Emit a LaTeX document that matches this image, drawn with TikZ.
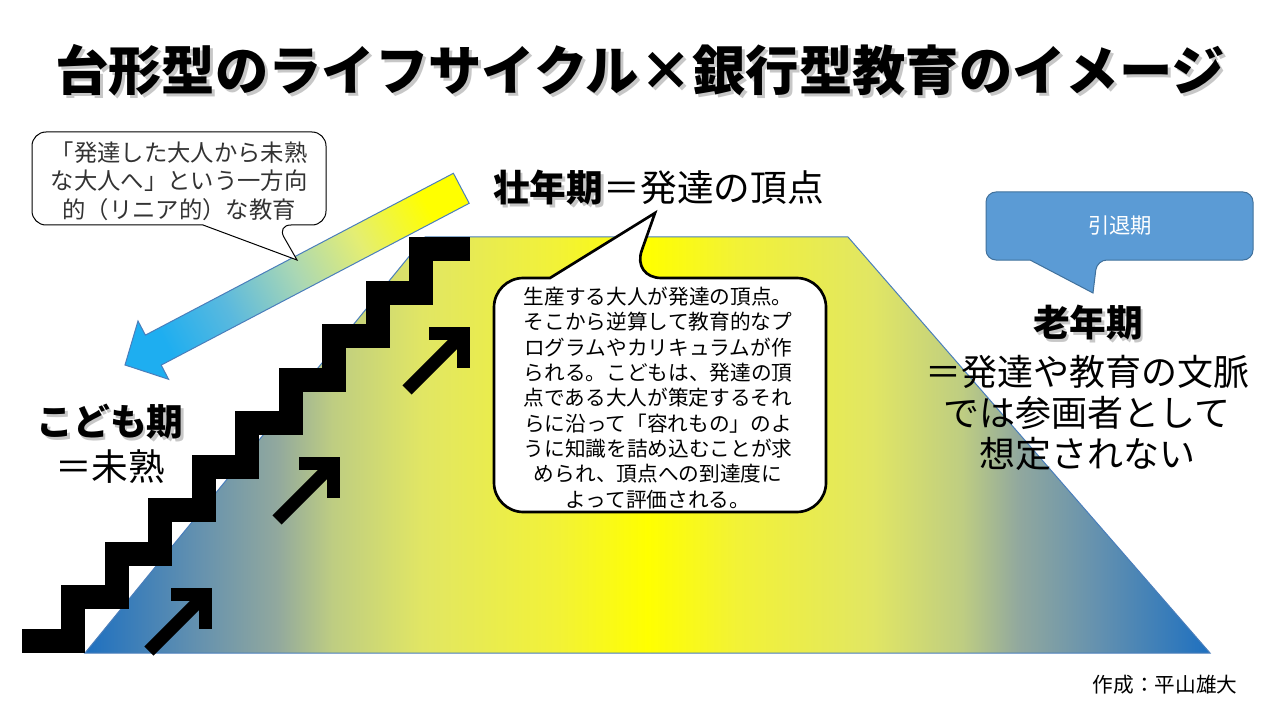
\documentclass[tikz,border=0pt]{standalone}
\usepackage{fontspec}
\setmainfont{Noto Sans CJK JP}
\usetikzlibrary{positioning}
\definecolor{stairblue}{RGB}{30,112,192}
\definecolor{edgeblue}{RGB}{74,126,187}
\definecolor{arrowblue}{RGB}{30,174,240}
\definecolor{retireblue}{RGB}{91,155,213}
\definecolor{retireedge}{RGB}{65,113,156}
\definecolor{life1}{RGB}{100,145,175}
\definecolor{life2}{RGB}{145,168,158}
\definecolor{life3}{RGB}{190,205,130}
\definecolor{life4}{RGB}{225,230,100}
\definecolor{life5}{RGB}{242,242,55}
\definecolor{reach1}{RGB}{90,185,222}
\definecolor{reach2}{RGB}{170,215,180}
\definecolor{reach3}{RGB}{228,238,115}
\pgfdeclarehorizontalshading{lifeshade}{100bp}{color(0bp)=(stairblue); color(25bp)=(stairblue);
  color(30bp)=(life1); color(33.5bp)=(life2); color(36bp)=(life3); color(40bp)=(life4);
  color(46bp)=(life5); color(50bp)=(yellow); color(54bp)=(life5); color(60bp)=(life4);
  color(64bp)=(life3); color(66.5bp)=(life2); color(70bp)=(life1); color(75bp)=(stairblue);
  color(100bp)=(stairblue)}
\pgfdeclarehorizontalshading{reachshade}{100bp}{color(0bp)=(arrowblue); color(25bp)=(arrowblue);
  color(37bp)=(reach1); color(50bp)=(reach2); color(62bp)=(reach3); color(75bp)=(yellow);
  color(100bp)=(yellow)}

\begin{document}
\begin{tikzpicture}[x=0.75pt,y=-0.75pt]
\tikzstyle{heading} = [font=\fontsize{40}{48}\selectfont\bfseries]
\tikzstyle{stage} = [font=\fontsize{27.5}{30}\selectfont\bfseries, inner sep=0pt]
\tikzstyle{stagenote} = [font=\fontsize{27.5}{30.5}\selectfont, inner sep=0pt, align=center]
\tikzstyle{textshade} = [text=black!22]
\tikzstyle{bubble} = [draw=black, fill=white]
\tikzstyle{upstep} = [line width=9.75pt]

\useasboundingbox (0,0) rectangle (1280,720);
\fill[white] (0,0) rectangle (1280,720);

% trapezoid life cycle
\shade[draw=edgeblue, line width=0.75pt, shading=lifeshade]
  (85,653) -- (425,237) -- (848,237) -- (1210,653) -- cycle;

% staircase
\draw[line width=18pt] (22,640.5) foreach \i in {0,...,8} {
  -- ({73+43.5*\i},{640.5-43.5*\i}) -- ({73+43.5*\i},{597-43.5*\i}) } -- (470,249);

% small arrows up the stairs
\foreach \cx/\cy in {212/588, 340/457, 470/327} {
  \draw[upstep] ({\cx-63},{\cy+63}) -- ({\cx-9},{\cy+9});
  \draw[upstep] ({\cx-41},{\cy+6.5}) -- ({\cx-6.5},{\cy+6.5}) -- ({\cx-6.5},{\cy+41});
}

% big arrow down to the child
\shade[draw=edgeblue, line width=0.75pt, shading=reachshade, shading angle=27.7]
  (125,365) -- (138,321) -- (145.4,335.1) -- (453.4,173.3) -- (469.2,203.3)
  -- (161.2,365.1) -- (168.6,379.3) -- cycle;

% callouts
\draw[bubble, line width=0.75pt, rounded corners=10.5pt] (203,225) -- (32,225) -- (32,132)
  -- (326,132) -- (326,225) -- (277,225) [sharp corners] -- (297,260) -- cycle;
\node[font=\fontsize{17.5}{21.4}\selectfont, text=black!80, align=center] (linear) at (179,181)
  {「発達した大人から未熟\\な大人へ」という一方向\\的（リニア的）な教育};

\draw[bubble, line width=2pt, rounded corners=22pt] (550,278) -- (494,278) -- (494,512)
  -- (826,512) -- (826,278) -- (632,278) [sharp corners] -- (655,213) -- cycle;
\node[font=\fontsize{15.5}{19}\selectfont, align=center] (peak) at (658,398)
  {生産する大人が発達の頂点。\\そこから逆算して教育的なプ\\ログラムやカリキュラムが作\\られる。こどもは、発達の頂\\点である大人が策定するそれ\\らに沿って「容れもの」のよ\\うに知識を詰め込むことが求\\められ、頂点への到達度に\\よって評価される。};

\draw[draw=retireedge, fill=retireblue, line width=0.75pt, rounded corners=7.5pt] (1030,260) -- (986,260)
  -- (986,192) -- (1253,192) -- (1253,260) -- (1097,260) [sharp corners] -- (1093,293) -- cycle;
\node[text=white, font=\fontsize{16}{19}\selectfont] (retire) at (1120,226) {引退期};

% headings
\node[heading, textshade] (titleshade) at (643,73) {台形型のライフサイクル×銀行型教育のイメージ};
\node[heading] (title) at (640,70) {台形型のライフサイクル×銀行型教育のイメージ};

\node[stage, textshade, anchor=west] (primeshade) at (495.5,190.5) {壮年期};
\node[stage, anchor=west] (prime) at (493,188) {壮年期};
\node[stagenote, right=0pt of prime] (primenote) {＝発達の頂点};

\node[stage, textshade] (childshade) at (112.5,424.5) {こども期};
\node[stage] (child) at (110,422) {こども期};
\node[stagenote] (childnote) at (110,467) {＝未熟};

\node[stage, textshade] (eldershade) at (1090.5,325.5) {老年期};
\node[stage] (elder) at (1088,323) {老年期};
\node[stagenote, font=\fontsize{27}{30.5}\selectfont] (eldernote) at (1087,413)
  {＝発達や教育の文脈\\では参画者として\\想定されない};

\node[font=\fontsize{15.5}{18}\selectfont] (credit) at (1165,685) {作成：平山雄大};
\end{tikzpicture}
\end{document}
